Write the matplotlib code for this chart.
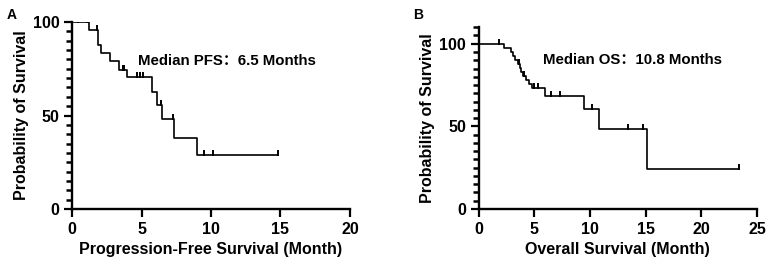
import matplotlib
matplotlib.use("Agg")
import matplotlib.pyplot as plt
from matplotlib.ticker import MultipleLocator
import numpy as np

plt.rcParams['font.family'] = ['Liberation Sans', 'Noto Sans CJK SC', 'DejaVu Sans']
plt.rcParams['font.weight'] = 'bold'

# --- A: progression-free survival (months, %) ---
pfs_event_t = [1.2, 1.9, 2.05, 2.75, 3.4, 3.95, 5.73, 6.09, 6.45, 7.36, 9.0]
pfs_surv = [95.5, 87.5, 83.3, 78.9, 74.4, 70.5, 62.7, 55.6, 48.0, 38.1, 28.7]
pfs_censor_t = [0.4, 1.1, 1.79, 3.65, 3.75, 4.7, 4.9, 5.1, 6.4, 7.29, 9.5, 10.15, 14.8]
pfs_end = 14.8

# --- B: overall survival (months, %) ---
os_event_t = [2.3, 2.9, 3.1, 3.3, 3.5, 3.7, 3.85, 4.0, 4.3, 4.5, 4.8, 6.0, 9.45, 10.85, 15.1]
os_surv = [97.6, 95.2, 92.8, 90.4, 88.0, 85.5, 83.0, 80.5, 78.0, 75.5, 73.0, 68.2, 60.7, 48.5, 24.3]
os_censor_t = [1.8, 3.6, 4.1, 5.0, 5.3, 6.5, 7.3, 10.2, 13.4, 14.8, 23.4]
os_end = 23.4


def km_steps(ev_t, surv, end):
    t = [0] + list(ev_t) + [end]
    s = [100] + list(surv) + [surv[-1]]
    return t, s


def level_at(ev_t, surv, tc):
    idx = np.searchsorted(ev_t, tc, side="right")
    s = np.array([100] + list(surv))
    return s[idx]


def draw_km(ax, ev_t, surv, cens, end):
    t, s = km_steps(ev_t, surv, end)
    ax.step(t, s, where="post", color="black", lw=1.2)
    ax.plot(cens, level_at(ev_t, surv, cens) + 1.2, ls="none", marker="|",
            color="black", ms=4, mew=1.4)


def style(ax, xmax, ymax, xlabel):
    for side in ("top", "right"):
        ax.spines[side].set_visible(False)
    for side in ("left", "bottom"):
        ax.spines[side].set_linewidth(1.7)
    ax.set_xlim(0, xmax)
    ax.set_ylim(0, ymax)
    ax.xaxis.set_major_locator(MultipleLocator(5))
    ax.yaxis.set_major_locator(MultipleLocator(50))
    ax.yaxis.set_minor_locator(MultipleLocator(5))
    ax.tick_params(axis="both", which="major", length=6, width=1.6, labelsize=11.5, pad=3)
    ax.tick_params(axis="y", which="minor", length=4.5, width=1.8)
    for lab in ax.get_xticklabels() + ax.get_yticklabels():
        lab.set_fontweight("bold")
    ax.set_xlabel(xlabel, fontsize=11.5, fontweight="bold", labelpad=4)
    ax.set_ylabel("Probability of Survival", fontsize=11.5, fontweight="bold", labelpad=3)


fig = plt.figure(figsize=(7.67, 2.61), dpi=100)
axA = fig.add_axes([0.0939, 0.1992, 0.3624, 0.7165])
axB = fig.add_axes([0.6239, 0.1992, 0.3631, 0.6966])

draw_km(axA, pfs_event_t, pfs_surv, pfs_censor_t, pfs_end)
style(axA, 20, 100, "Progression-Free Survival (Month)")
axA.text(4.75, 79, "Median PFS：6.5 Months", fontsize=10.8, fontweight="bold", va="center")

draw_km(axB, os_event_t, os_surv, os_censor_t, os_end)
style(axB, 25, 110, "Overall Survival (Month)")
axB.text(5.8, 90, "Median OS：10.8 Months", fontsize=10.8, fontweight="bold", va="center")

fig.text(7 / 767, 1 - 15 / 261, "A", fontsize=10, fontweight="bold", va="center")
fig.text(413 / 767, 1 - 15 / 261, "B", fontsize=10, fontweight="bold", va="center")

fig.savefig("out.png", dpi=100)
